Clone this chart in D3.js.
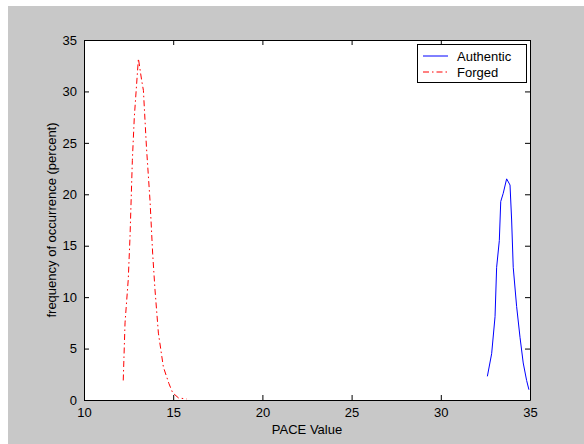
<!DOCTYPE html>
<html>
<head>
<meta charset="utf-8">
<script src="https://cdn.jsdelivr.net/npm/d3@7"></script>
<style>
html,body{margin:0;padding:0;background:#fff;}
svg{display:block;}
</style>
</head>
<body>
<svg id="chart" width="584" height="444"></svg>
<script>
// Data
const forgedX = [12.2, 12.3, 12.48, 12.58, 12.71, 12.82, 13.05, 13.23, 13.33, 13.5, 13.7, 13.85, 13.98, 14.17, 14.45, 14.76, 14.97, 15.3, 15.75];
const forgedY = [1.9, 7.5, 11.7, 15.9, 23.3, 27.5, 33.2, 31.1, 30.1, 24.6, 19.4, 14.2, 10.7, 6.5, 3.2, 1.6, 0.7, 0.2, 0.1];
const authX = [32.61, 32.85, 33.04, 33.13, 33.28, 33.36, 33.5, 33.69, 33.88, 33.97, 34.06, 34.25, 34.44, 34.62, 34.81, 34.94];
const authY = [2.3, 4.5, 8.1, 12.9, 15.5, 19.3, 20.1, 21.5, 20.9, 17.5, 12.9, 9.1, 6.1, 3.6, 1.9, 1.0];
const xTicks = [10, 15, 20, 25, 30, 35];
const yTicks = [0, 5, 10, 15, 20, 25, 30, 35];
const seriesNames = ["Authentic", "Forged"];

const svg = d3.select("#chart");
const font = "Liberation Sans, Arial, sans-serif";

// figure background
svg.append("rect").attr("x", 8).attr("y", 6).attr("width", 576).attr("height", 438).attr("fill", "#c8c8c8");

const L = 84, R = 530, T = 40, B = 400;
const x = d3.scaleLinear().domain([10, 35]).range([L, R]);
const y = d3.scaleLinear().domain([0, 35]).range([B, T]);

svg.append("rect").attr("x", L).attr("y", T).attr("width", R - L).attr("height", B - T).attr("fill", "#fff");

const clip = svg.append("defs").append("clipPath").attr("id", "clip");
clip.append("rect").attr("x", L).attr("y", T).attr("width", R - L).attr("height", B - T);

// lines
const lineGen = (xs, ys) => d3.line().x((d, i) => x(xs[i])).y((d, i) => y(ys[i]))(xs);
const g = svg.append("g").attr("clip-path", "url(#clip)");
g.append("path").attr("d", lineGen(authX, authY)).attr("fill", "none").attr("stroke", "#0000ff").attr("stroke-width", 1);
g.append("path").attr("d", lineGen(forgedX, forgedY)).attr("fill", "none").attr("stroke", "#ff0000").attr("stroke-width", 1).attr("stroke-dasharray", "6,3,1.5,3");

// axes
const tickLen = 5;
const axB = d3.axisBottom(x).tickValues(xTicks).tickSizeInner(-tickLen).tickSizeOuter(0).tickPadding(8);
const axT = d3.axisTop(x).tickValues(xTicks).tickSizeInner(-tickLen).tickSizeOuter(0).tickFormat("");
const axLf = d3.axisLeft(y).tickValues(yTicks).tickSizeInner(-tickLen).tickSizeOuter(0).tickPadding(7);
const axRt = d3.axisRight(y).tickValues(yTicks).tickSizeInner(-tickLen).tickSizeOuter(0).tickFormat("");

function style(sel) {
  sel.selectAll("path").attr("stroke", "#000").attr("stroke-width", 1);
  sel.selectAll("line").attr("stroke", "#000").attr("stroke-width", 1);
  sel.selectAll("text").attr("font-family", font).attr("font-size", 13).attr("fill", "#000");
}
svg.append("g").attr("transform", `translate(0,${B})`).call(axB).call(style);
svg.append("g").attr("transform", `translate(0,${T})`).call(axT).call(style);
svg.append("g").attr("transform", `translate(${L},0)`).call(axLf).call(style);
svg.append("g").attr("transform", `translate(${R},0)`).call(axRt).call(style);

// axis labels
svg.append("text").attr("x", (L + R) / 2).attr("y", 434).attr("text-anchor", "middle")
  .attr("font-family", font).attr("font-size", 13).text("PACE Value");
svg.append("text").attr("transform", `translate(56,${(T + B) / 2}) rotate(-90)`).attr("text-anchor", "middle")
  .attr("font-family", font).attr("font-size", 13).text("frequency of occurrence (percent)");

// legend
const lg = svg.append("g");
lg.append("rect").attr("x", 417.5).attr("y", 44.5).attr("width", 109).attr("height", 38).attr("fill", "#fff").attr("stroke", "#000");
const legStyles = [{c: "#0000ff", d: null}, {c: "#ff0000", d: "6,3,1.5,3"}];
seriesNames.forEach((n, i) => {
  const yy = 56 + i * 16;
  lg.append("line").attr("x1", 423).attr("x2", 448).attr("y1", yy).attr("y2", yy)
    .attr("stroke", legStyles[i].c).attr("stroke-dasharray", legStyles[i].d);
  lg.append("text").attr("x", 457).attr("y", yy + 4.5).attr("font-family", font).attr("font-size", 13).text(n);
});
</script>
</body>
</html>
